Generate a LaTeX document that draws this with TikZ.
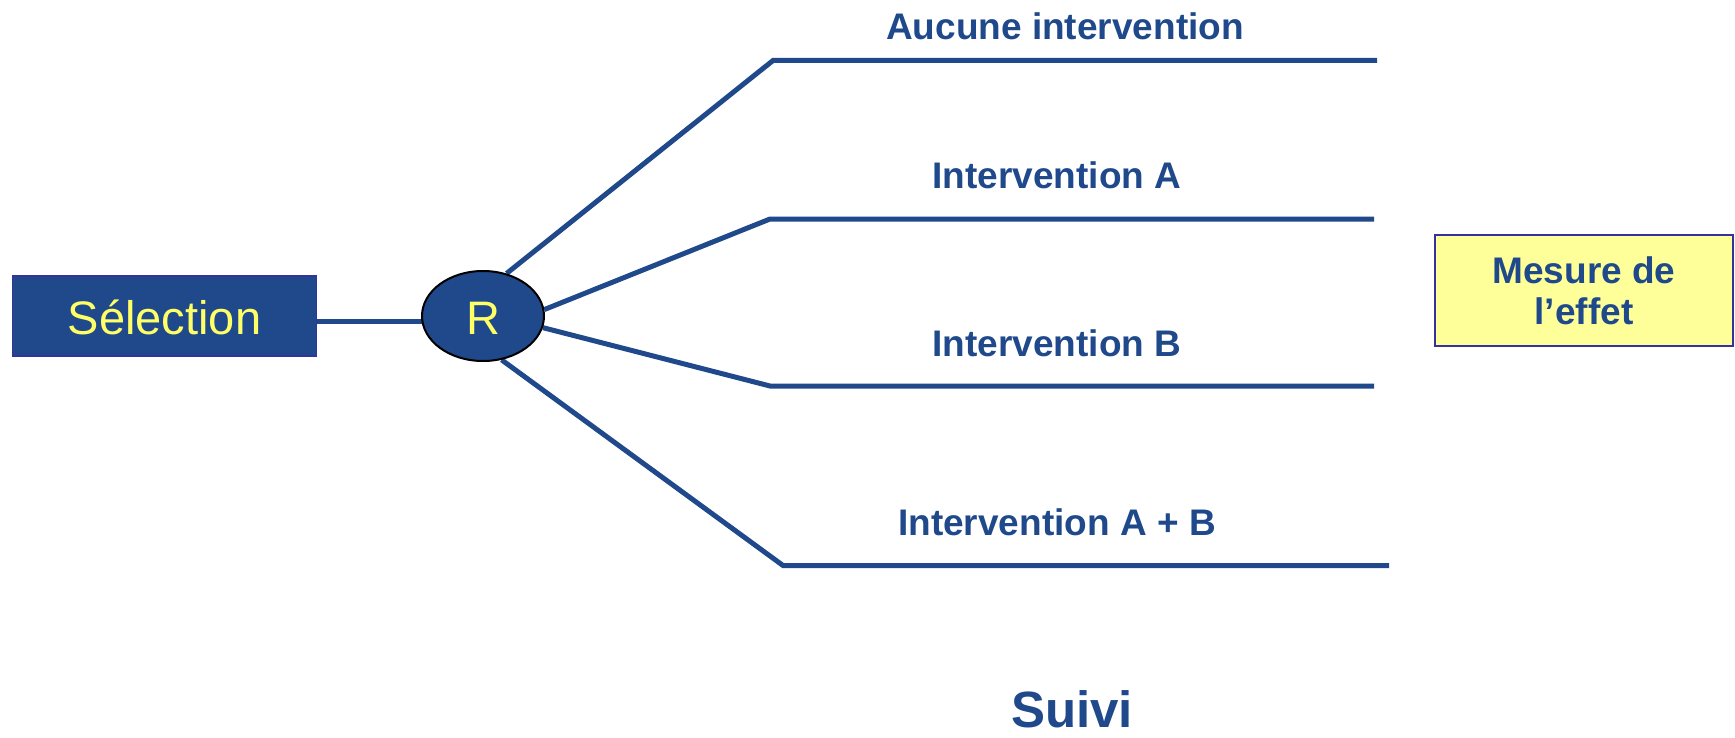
\documentclass[tikz,border=0pt]{standalone}
\usepackage{fontspec}
\setmainfont{Liberation Sans}
\usetikzlibrary{shapes.geometric,backgrounds}
\definecolor{navy}{RGB}{31,73,139}
\definecolor{boxedge}{RGB}{51,51,153}
\definecolor{lemon}{RGB}{255,255,102}
\definecolor{paleyellow}{RGB}{255,255,153}
\tikzset{
  armline/.style={draw=navy, line width=2.5pt},
  armlabel/.style={anchor=base, inner sep=0pt, text=navy,
    font=\fontsize{18.5pt}{20.5pt}\selectfont\bfseries},
  selbox/.style={draw=boxedge, line width=0.8pt, fill=navy, text=lemon,
    minimum width=152pt, minimum height=40.25pt, inner sep=0pt,
    text height=18.5pt, text depth=0pt,
    font=\fontsize{23.5pt}{28pt}\selectfont},
  rnode/.style={ellipse, draw=black, line width=1pt, fill=navy, text=lemon,
    minimum width=61pt, minimum height=45pt, inner sep=0pt,
    text height=18pt, text depth=0pt,
    font=\fontsize{23.5pt}{28pt}\selectfont},
  effectbox/.style={draw=boxedge, line width=1pt, fill=paleyellow, text=navy,
    minimum width=149pt, minimum height=55.5pt, inner sep=0pt, align=center,
    font=\fontsize{18.5pt}{20.5pt}\selectfont\bfseries},
}
\begin{document}
\begin{tikzpicture}[x=0.5pt, y=-0.5pt]
  \useasboundingbox (0,0) rectangle (1735,738);

  % selection box, randomisation and outcome box
  \node[selbox] (sel) at (164.5,316) {Sélection};
  \node[rnode] (R) at (483,316) {R};
  \node[effectbox] (mes) at (1584,290.5) {Mesure de\\l’effet};

  % arm corners and ends
  \coordinate (k1) at (773,60.5);   \coordinate (e1) at (1377,60.5);
  \coordinate (k2) at (770,219);    \coordinate (e2) at (1374,219);
  \coordinate (k3) at (770,386);    \coordinate (e3) at (1374,386);
  \coordinate (k4) at (783,565.5);  \coordinate (e4) at (1389,565.5);
  \coordinate (s0) at ([yshift=-2.5pt]sel.east);

  \begin{scope}[on background layer]
    \draw[armline] (s0) -- (s0 -| R.center);
    \draw[armline] (R.61)  -- (k1) -- (e1);
    \draw[armline] (R.6)   -- (k2) -- (e2);
    \draw[armline] (R.-11) -- (k3) -- (e3);
    \draw[armline] (R.-67) -- (k4) -- (e4);
  \end{scope}

  % arm labels
  \node[armlabel] (l1) at (1065,40)  {Aucune intervention};
  \node[armlabel] (l2) at (1057,188) {Intervention A};
  \node[armlabel] (l3) at (1057,356) {Intervention B};
  \node[armlabel] (l4) at (1057,535) {Intervention A + B};

  \node[armlabel, font=\fontsize{25.5pt}{30pt}\selectfont\bfseries] (suivi) at (1072,727) {Suivi};
\end{tikzpicture}
\end{document}
